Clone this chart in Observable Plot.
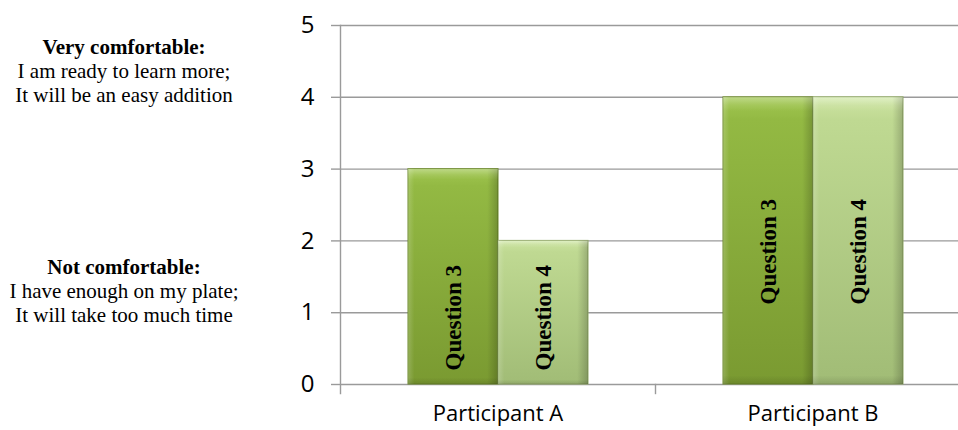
<!DOCTYPE html>
<html><head><meta charset="utf-8">
<script src="https://cdn.jsdelivr.net/npm/d3@7"></script>
<script src="https://cdn.jsdelivr.net/npm/@observablehq/plot@0.6"></script>
<style>
html,body{margin:0;padding:0;background:#fff;overflow:hidden}
#wrap{position:relative;width:958px;height:430px}
.ann{position:absolute;left:0;width:248px;text-align:center;font-family:"Liberation Serif","Times New Roman",serif;font-size:21px;line-height:24px;color:#000}
.ann .t{font-weight:bold}
</style></head><body>
<div id="wrap"></div>
<script>
const participants = ["Participant A", "Participant B"];
const questions = ["Question 3", "Question 4"];
const question3 = [3, 4];
const question4 = [2, 4];
const yTicks = [0, 1, 2, 3, 4, 5];
const annotationTitles = ["Very comfortable:", "Not comfortable:"];
const annotationLines = [
  ["I am ready to learn more;", "It will be an easy addition"],
  ["I have enough on my plate;", "It will take too much time"]
];

const rows = participants.flatMap((p, i) => [
  {participant: p, question: questions[0], value: question3[i]},
  {participant: p, question: questions[1], value: question4[i]}
]);

const W = 958, H = 430, mL = 339, mR = -12, mT = 25, mB = 46;
const plotH = H - mT - mB;
const grey = "#9a9a9a";
const labelY = d => d.participant === participants[0] ? 0.93 : 1.85;

const svg = Plot.plot({
  width: W, height: H,
  marginLeft: mL, marginRight: mR, marginTop: mT, marginBottom: mB,
  style: {background: "#fff", overflow: "hidden"},
  fx: {domain: participants, paddingInner: 0, paddingOuter: 0, label: null},
  x: {domain: questions, paddingInner: 0, paddingOuter: 0.733, axis: null},
  y: {domain: [0, 5], label: null},
  marks: [
    Plot.ruleY(yTicks, {stroke: grey, strokeWidth: 1.4}),
    Plot.frame({anchor: "left", facetAnchor: "left", stroke: grey, strokeWidth: 1.4, insetBottom: -9}),
    Plot.frame({anchor: "left", facetAnchor: "right", stroke: grey, strokeWidth: 1.4, insetTop: plotH, insetBottom: -9}),
    Plot.barY(rows.filter(d => d.question === questions[0]), {fx: "participant", x: "question", y: "value", fill: "url(#gQ3)", stroke: "#6b8729", strokeWidth: 1}),
    Plot.barY(rows.filter(d => d.question === questions[1]), {fx: "participant", x: "question", y: "value", fill: "url(#gQ4)", stroke: "#8ea762", strokeWidth: 1}),
    Plot.barY(rows, {fx: "participant", x: "question", y: "value", fill: "url(#gSide)"}),
    Plot.barY(rows, {fx: "participant", x: "question", y: "value", fill: "url(#gTop)"}),
    Plot.text(rows, {fx: "participant", x: "question", y: labelY, text: "question", rotate: -90,
      fontFamily: "Liberation Serif", fontWeight: "bold", fontSize: 23, fill: "#000"}),
    Plot.axisY({ticks: yTicks, tickFormat: d3.format("d"), tickSize: 9, tickPadding: 17, fontSize: 24, fontFamily: "Open Sans",
      stroke: grey, strokeWidth: 1.4, fill: "#000", label: null}),
    Plot.axisFx({anchor: "bottom", tickSize: 0, tickPadding: 21, fontSize: 22, fontFamily: "Open Sans", fill: "#000", label: null})
  ]
});

const defs = d3.select(svg).insert("defs", ":first-child");
function grad(id, stops, horizontal) {
  const g = defs.append("linearGradient").attr("id", id)
    .attr("x1", 0).attr("y1", 0).attr("x2", horizontal ? 1 : 0).attr("y2", horizontal ? 0 : 1);
  for (const [o, c, a] of stops) g.append("stop").attr("offset", o).attr("stop-color", c).attr("stop-opacity", a ?? 1);
}
grad("gQ3", [[0, "#a9cd60"], [0.03, "#9cc24c"], [0.08, "#93b943"], [1, "#7a9a31"]]);
grad("gQ4", [[0, "#d6ebb2"], [0.03, "#c8e09c"], [0.08, "#bfd992"], [1, "#a1bc76"]]);
grad("gSide", [[0, "#ffffff", 0.18], [0.07, "#ffffff", 0], [0.88, "#000000", 0], [1, "#000000", 0.2]], true);
grad("gTop", [[0, "#ffffff", 0.25], [0.025, "#ffffff", 0.1], [0.05, "#ffffff", 0], [0.97, "#000000", 0], [1, "#000000", 0.12]]);

const wrap = document.getElementById("wrap");
wrap.appendChild(svg);
const annTops = [35, 255];
annotationTitles.forEach((t, i) => {
  const div = document.createElement("div");
  div.className = "ann";
  div.style.top = annTops[i] + "px";
  const title = document.createElement("div");
  title.className = "t";
  title.textContent = t;
  div.appendChild(title);
  for (const line of annotationLines[i]) {
    const l = document.createElement("div");
    l.textContent = line;
    div.appendChild(l);
  }
  wrap.appendChild(div);
});
</script>
</body></html>
